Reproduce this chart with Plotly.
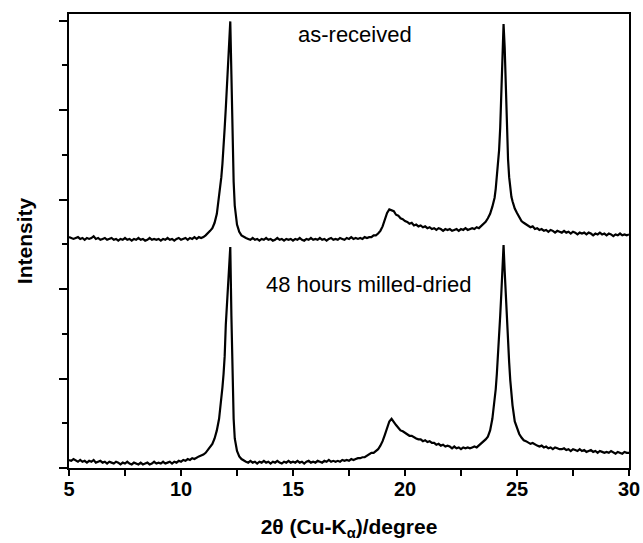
import plotly.graph_objects as go

# 2-theta sample positions (degrees)
TWO_THETA = [
    5.0, 5.1, 5.2, 5.3, 5.4, 5.5, 5.6, 5.7, 5.8, 5.9,
    6.0, 6.1, 6.2, 6.3, 6.4, 6.5, 6.6, 6.7, 6.8, 6.9,
    7.0, 7.1, 7.2, 7.3, 7.4, 7.5, 7.6, 7.7, 7.8, 7.9,
    8.0, 8.1, 8.2, 8.3, 8.4, 8.5, 8.6, 8.7, 8.8, 8.9,
    9.0, 9.1, 9.2, 9.3, 9.4, 9.5, 9.6, 9.7, 9.8, 9.9,
    10.0, 10.1, 10.2, 10.3, 10.4, 10.5, 10.6, 10.7, 10.8, 10.9,
    11.0, 11.1, 11.2, 11.3, 11.4, 11.5, 11.6, 11.7, 11.8,
    11.85, 11.9, 11.95, 12.0, 12.05, 12.1, 12.15, 12.2, 12.25, 12.3, 12.35, 12.4, 12.45, 12.5, 12.55, 12.6,
    12.7, 12.8, 12.9,
    13.0, 13.1, 13.2, 13.3, 13.4, 13.5, 13.6, 13.7, 13.8, 13.9,
    14.0, 14.1, 14.2, 14.3, 14.4, 14.5, 14.6, 14.7, 14.8, 14.9,
    15.0, 15.1, 15.2, 15.3, 15.4, 15.5, 15.6, 15.7, 15.8, 15.9,
    16.0, 16.1, 16.2, 16.3, 16.4, 16.5, 16.6, 16.7, 16.8, 16.9,
    17.0, 17.1, 17.2, 17.3, 17.4, 17.5, 17.6, 17.7, 17.8, 17.9,
    18.0, 18.1, 18.2, 18.3, 18.4, 18.5, 18.6, 18.7, 18.8, 18.9,
    19.0, 19.1, 19.2, 19.3, 19.4, 19.5, 19.6, 19.7, 19.8, 19.9,
    20.0, 20.1, 20.2, 20.3, 20.4, 20.5, 20.6, 20.7, 20.8, 20.9,
    21.0, 21.1, 21.2, 21.3, 21.4, 21.5, 21.6, 21.7, 21.8, 21.9,
    22.0, 22.1, 22.2, 22.3, 22.4, 22.5, 22.6, 22.7, 22.8, 22.9,
    23.0, 23.1, 23.2, 23.3, 23.4, 23.5, 23.6, 23.7, 23.8, 23.9,
    24.0,
    24.05, 24.1, 24.15, 24.2, 24.25, 24.3, 24.35, 24.4, 24.45, 24.5, 24.55, 24.6, 24.65, 24.7, 24.75, 24.8,
    24.9, 25.0, 25.1, 25.2, 25.3, 25.4, 25.5, 25.6, 25.7, 25.8, 25.9,
    26.0, 26.1, 26.2, 26.3, 26.4, 26.5, 26.6, 26.7, 26.8, 26.9,
    27.0, 27.1, 27.2, 27.3, 27.4, 27.5, 27.6, 27.7, 27.8, 27.9,
    28.0, 28.1, 28.2, 28.3, 28.4, 28.5, 28.6, 28.7, 28.8, 28.9,
    29.0, 29.1, 29.2, 29.3, 29.4, 29.5, 29.6, 29.7, 29.8, 29.9,
    30.0,
]

# upper pattern: as-received (offset intensity, arbitrary units)
AS_RECEIVED = [
    2.58, 2.57, 2.56, 2.57, 2.58, 2.56, 2.57, 2.55, 2.57, 2.56,
    2.57, 2.59, 2.56, 2.57, 2.55, 2.56, 2.57, 2.55, 2.56, 2.57,
    2.55, 2.56, 2.54, 2.56, 2.55, 2.57, 2.55, 2.56, 2.54, 2.56,
    2.55, 2.57, 2.55, 2.56, 2.54, 2.55, 2.57, 2.55, 2.56, 2.55,
    2.56, 2.54, 2.56, 2.55, 2.57, 2.55, 2.56, 2.54, 2.56, 2.57,
    2.55, 2.56, 2.57, 2.55, 2.57, 2.56, 2.58, 2.56, 2.58, 2.57,
    2.58, 2.60, 2.62, 2.65, 2.68, 2.74, 2.84, 3.03, 3.25,
    3.40, 3.55, 3.80, 4.02, 4.25, 4.55, 4.80, 4.99, 4.40, 3.65, 3.20, 2.93, 2.80, 2.72, 2.68, 2.64,
    2.60, 2.58, 2.57,
    2.56, 2.55, 2.57, 2.55, 2.56, 2.54, 2.56, 2.55, 2.57, 2.55,
    2.56, 2.54, 2.55, 2.57, 2.55, 2.56, 2.54, 2.56, 2.55, 2.56,
    2.54, 2.56, 2.55, 2.57, 2.55, 2.54, 2.56, 2.55, 2.57, 2.55,
    2.56, 2.55, 2.57, 2.55, 2.56, 2.54, 2.56, 2.57, 2.55, 2.56,
    2.55, 2.57, 2.56, 2.55, 2.57, 2.56, 2.58, 2.56, 2.57, 2.56,
    2.57, 2.56, 2.58, 2.57, 2.58, 2.58, 2.60, 2.60, 2.62, 2.65,
    2.70, 2.78, 2.85, 2.89, 2.88, 2.87, 2.83, 2.82, 2.79, 2.78,
    2.76, 2.75, 2.73, 2.74, 2.71, 2.72, 2.70, 2.71, 2.69, 2.70,
    2.68, 2.69, 2.67, 2.68, 2.66, 2.68, 2.67, 2.65, 2.67, 2.66,
    2.67, 2.65, 2.66, 2.67, 2.65, 2.67, 2.66, 2.68, 2.66, 2.67,
    2.68, 2.67, 2.69, 2.68, 2.70, 2.72, 2.75, 2.79, 2.84, 2.92,
    3.02,
    3.12, 3.25, 3.38, 3.55, 3.80, 4.15, 4.55, 4.96, 4.70, 4.25, 3.85, 3.45, 3.25, 3.10, 3.03, 2.98,
    2.90, 2.85, 2.80, 2.76, 2.74, 2.72, 2.71, 2.69, 2.70, 2.67, 2.68,
    2.66, 2.67, 2.65, 2.66, 2.64, 2.66, 2.65, 2.63, 2.65, 2.64,
    2.63, 2.65, 2.63, 2.64, 2.62, 2.64, 2.63, 2.61, 2.63, 2.62,
    2.63, 2.61, 2.63, 2.62, 2.60, 2.62, 2.61, 2.63, 2.61, 2.62,
    2.60, 2.62, 2.61, 2.59, 2.61, 2.60, 2.62, 2.60, 2.61, 2.60,
    2.61,
]

# lower pattern: 48 hours milled-dried
MILLED_DRIED = [
    0.09, 0.08, 0.10, 0.08, 0.07, 0.09, 0.07, 0.08, 0.06, 0.08,
    0.07, 0.09, 0.06, 0.07, 0.08, 0.06, 0.07, 0.05, 0.07, 0.06,
    0.05, 0.07, 0.06, 0.04, 0.06, 0.05, 0.07, 0.05, 0.04, 0.06,
    0.05, 0.04, 0.06, 0.04, 0.05, 0.06, 0.04, 0.05, 0.07, 0.05,
    0.06, 0.05, 0.07, 0.05, 0.06, 0.07, 0.05, 0.07, 0.06, 0.08,
    0.07, 0.09, 0.08, 0.10, 0.09, 0.11, 0.10, 0.12, 0.13, 0.14,
    0.15, 0.17, 0.20, 0.23, 0.27, 0.33, 0.42, 0.55, 0.75,
    0.90, 1.05, 1.25, 1.60, 1.85, 2.05, 2.30, 2.47, 1.70, 0.95, 0.55, 0.33, 0.24, 0.19, 0.16, 0.13,
    0.10, 0.08, 0.07,
    0.06, 0.08, 0.06, 0.07, 0.05, 0.07, 0.06, 0.08, 0.06, 0.07,
    0.05, 0.07, 0.06, 0.08, 0.06, 0.05, 0.07, 0.06, 0.08, 0.06,
    0.07, 0.06, 0.08, 0.06, 0.07, 0.05, 0.07, 0.08, 0.06, 0.07,
    0.06, 0.08, 0.07, 0.06, 0.08, 0.07, 0.09, 0.07, 0.08, 0.07,
    0.08, 0.07, 0.09, 0.08, 0.09, 0.08, 0.10, 0.09, 0.10, 0.11,
    0.11, 0.12, 0.12, 0.14, 0.15, 0.17, 0.17, 0.19, 0.21, 0.25,
    0.30, 0.37, 0.45, 0.52, 0.55, 0.51, 0.48, 0.45, 0.42, 0.41,
    0.39, 0.38, 0.36, 0.36, 0.34, 0.33, 0.32, 0.32, 0.30, 0.31,
    0.29, 0.30, 0.28, 0.28, 0.26, 0.27, 0.25, 0.26, 0.24, 0.25,
    0.24, 0.22, 0.24, 0.22, 0.23, 0.21, 0.23, 0.22, 0.23, 0.22,
    0.23, 0.24, 0.23, 0.25, 0.27, 0.29, 0.32, 0.35, 0.42, 0.55,
    0.75,
    0.88, 1.05, 1.23, 1.45, 1.70, 1.95, 2.25, 2.49, 2.20, 1.90, 1.62, 1.40, 1.18, 0.98, 0.82, 0.70,
    0.52, 0.44, 0.38, 0.34, 0.31, 0.30, 0.28, 0.27, 0.28, 0.26, 0.25,
    0.24, 0.25, 0.23, 0.24, 0.22, 0.23, 0.21, 0.23, 0.22, 0.21,
    0.21, 0.22, 0.20, 0.21, 0.19, 0.21, 0.20, 0.19, 0.21, 0.19,
    0.20, 0.18, 0.19, 0.20, 0.18, 0.19, 0.17, 0.19, 0.18, 0.17,
    0.18, 0.17, 0.19, 0.17, 0.16, 0.18, 0.17, 0.16, 0.18, 0.17,
    0.17,
]

X_TICKS = [5, 10, 15, 20, 25, 30]
X_TICK_TEXT = ["5", "10", "15", "20", "25", "30"]
LABEL_TOP = "as-received"
LABEL_BOTTOM = "48 hours milled-dried"

FONT = "Liberation Sans, Arial, sans-serif"

fig = go.Figure()
fig.add_trace(go.Scatter(x=TWO_THETA, y=AS_RECEIVED, mode="lines",
                         line=dict(color="black", width=2.2), name=LABEL_TOP,
                         showlegend=False))
fig.add_trace(go.Scatter(x=TWO_THETA, y=MILLED_DRIED, mode="lines",
                         line=dict(color="black", width=2.2), name=LABEL_BOTTOM,
                         showlegend=False))

fig.add_annotation(x=17.77, y=4.84, xref="x", yref="y", text=LABEL_TOP,
                   showarrow=False, font=dict(family=FONT, size=22, color="black"))
fig.add_annotation(x=18.39, y=2.045, xref="x", yref="y", text=LABEL_BOTTOM,
                   showarrow=False, font=dict(family=FONT, size=22, color="black"))

fig.update_layout(
    width=643, height=543,
    margin=dict(l=69, r=14, t=14, b=75, autoexpand=False),
    paper_bgcolor="white", plot_bgcolor="white",
    font=dict(family=FONT, color="black"),
    xaxis=dict(
        range=[5, 30], tickvals=X_TICKS, ticktext=["<b>%s</b>" % t for t in X_TICK_TEXT],
        ticks="", showgrid=False, zeroline=False,
        showline=True, linecolor="black", linewidth=2, mirror=True,
        tickfont=dict(family=FONT, size=20, color="black"),
        ticklabelstandoff=2,
        minor=dict(ticks="outside", ticklen=6, tickwidth=1.5, tickcolor="black",
                   tick0=5, dtick=2.5, showgrid=False),
        title=dict(text="<b>2θ (Cu-K<sub>α</sub>)/degree</b>",
                   font=dict(family=FONT, size=21, color="black"), standoff=20),
        automargin=False,
    ),
    yaxis=dict(
        range=[0, 5.073], tick0=0, dtick=1, ticks="outside", ticklen=8,
        tickwidth=1.5, tickcolor="black", showticklabels=False,
        showgrid=False, zeroline=False,
        showline=True, linecolor="black", linewidth=2, mirror=True,
        minor=dict(ticks="outside", ticklen=5, tickwidth=1.5, tickcolor="black",
                   dtick=0.5, showgrid=False),
        title=dict(text="<b>Intensity</b>",
                   font=dict(family=FONT, size=21, color="black"), standoff=21),
        automargin=False,
    ),
)

fig.write_html("out.html", config={"displayModeBar": False},
               post_script="document.body.style.margin='0px';document.body.style.padding='0px';")
